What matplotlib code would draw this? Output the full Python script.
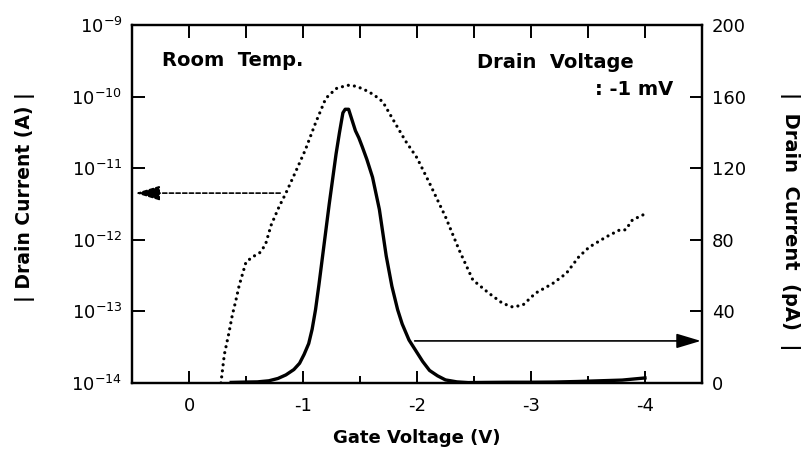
import numpy as np
import matplotlib
matplotlib.use("Agg")
import matplotlib.pyplot as plt
from matplotlib.ticker import FixedLocator, NullLocator, NullFormatter, LogFormatterMathtext

plt.rcParams['font.family'] = ['DejaVu Sans']
plt.rcParams['mathtext.default'] = 'regular'

# Drain current on log scale (A) vs gate voltage (V)
gate_log = [-0.28, -0.31, -0.35, -0.38, -0.41, -0.44, -0.50, -0.56, -0.62, -0.67,
            -0.72, -0.79, -0.85, -0.94, -1.02, -1.11, -1.20, -1.29, -1.39, -1.47,
            -1.55, -1.62, -1.70, -1.80, -1.90, -2.00, -2.11, -2.25, -2.37, -2.49,
            -2.63, -2.75, -2.84, -2.93, -3.04, -3.19, -3.31, -3.42, -3.51, -3.66,
            -3.78, -3.83, -3.89, -4.00]
current_log = [1.0e-14, 2.5e-14, 5.0e-14, 8.9e-14, 1.4e-13, 2.3e-13, 4.9e-13, 5.8e-13,
               6.6e-13, 8.5e-13, 1.6e-12, 2.9e-12, 4.5e-12, 9.3e-12, 1.8e-11, 4.3e-11,
               9.5e-11, 1.3e-10, 1.45e-10, 1.4e-10, 1.23e-10, 1.07e-10, 8.5e-11, 4.5e-11,
               2.4e-11, 1.4e-11, 6.2e-12, 2.1e-12, 7.2e-13, 2.75e-13, 1.8e-13, 1.3e-13,
               1.15e-13, 1.23e-13, 1.8e-13, 2.45e-13, 3.4e-13, 5.8e-13, 7.9e-13, 1.1e-12,
               1.38e-12, 1.38e-12, 1.9e-12, 2.3e-12]

# Drain current on linear scale (pA) vs gate voltage (V)
gate_lin = [-0.37, -0.50, -0.60, -0.70, -0.78, -0.85, -0.92, -0.97, -1.01, -1.05,
            -1.08, -1.11, -1.14, -1.17, -1.20, -1.23, -1.26, -1.29, -1.32, -1.35,
            -1.37, -1.40, -1.43, -1.46, -1.49, -1.52, -1.56, -1.61, -1.64, -1.67,
            -1.70, -1.73, -1.78, -1.83, -1.87, -1.93, -1.99, -2.05, -2.11, -2.18,
            -2.25, -2.35, -2.45, -2.60, -2.80, -3.00, -3.20, -3.40, -3.60, -3.80,
            -3.90, -4.00]
current_lin = [0.3, 0.5, 0.6, 1.2, 2.5, 4.5, 7.5, 11, 16, 22,
               30, 41, 55, 70, 85, 100, 114, 128, 140, 151,
               153, 153, 147, 141, 137, 132, 125, 115, 106, 97,
               84, 71, 54, 41, 33, 24, 18, 12, 7, 4,
               1.7, 0.6, 0.2, 0.3, 0.4, 0.4, 0.5, 0.8, 1.2, 1.6,
               2.2, 2.8]

x_ticks = [0, -1, -2, -3, -4]
x_tick_labels = ['0', '-1', '-2', '-3', '-4']
x_half_ticks = [0.0, -0.5, -1.0, -1.5, -2.0, -2.5, -3.0, -3.5, -4.0]
left_ticks = [1e-14, 1e-13, 1e-12, 1e-11, 1e-10, 1e-9]
right_ticks = [0, 40, 80, 120, 160, 200]

pos = [0.164, 0.149, 0.708, 0.795]
fig = plt.figure(figsize=(8.05, 4.5), dpi=100)
ax = fig.add_axes(pos)
ax2 = ax.twinx()

ax.set_yscale('log')
ax.set_xlim(0.5, -4.5)
ax.set_ylim(1e-14, 1e-9)
ax2.set_ylim(0, 200)

ax.plot(gate_log, current_log, color='black', lw=2.3,
        linestyle=(0, (0.01, 1.9)), dash_capstyle='round')
ax2.plot(gate_lin, current_lin, color='black', lw=2.4, solid_joinstyle='round')

# axis arrows pointing to the scale each curve uses
head = '-|>,head_length=1.5,head_width=0.45'
ax.annotate('', xy=(0.47, 4.5e-12), xytext=(-0.80, 4.5e-12),
            arrowprops=dict(arrowstyle=head, color='black', lw=1.2,
                            linestyle=(0, (2.5, 1.5)), shrinkA=0, shrinkB=0))
ax2.annotate('', xy=(-4.49, 23.5), xytext=(-1.98, 23.5),
             arrowprops=dict(arrowstyle=head, color='black', lw=1.2,
                             shrinkA=0, shrinkB=0))

# ticks
ax.xaxis.set_major_locator(FixedLocator(x_ticks))
ax.set_xticklabels(x_tick_labels)
ax.xaxis.set_minor_locator(FixedLocator(x_half_ticks))
ax.xaxis.set_minor_formatter(NullFormatter())
ax.yaxis.set_major_locator(FixedLocator(left_ticks))
ax.yaxis.set_major_formatter(LogFormatterMathtext())
ax.yaxis.set_minor_locator(NullLocator())
ax2.yaxis.set_major_locator(FixedLocator(right_ticks))

ax.tick_params(axis='both', which='major', direction='in', length=9, width=1.4,
               labelsize=13, pad=7)
ax.tick_params(axis='x', which='minor', direction='in', length=5, width=1.4)
ax.tick_params(axis='x', which='major', pad=10)
ax2.tick_params(axis='y', which='major', direction='in', length=9, width=1.4,
                labelsize=13, pad=7)

# top edge ticks every half volt, all the same length
ax_top = fig.add_axes(pos, frameon=False)
ax_top.set_xlim(0.5, -4.5)
ax_top.xaxis.set_major_locator(FixedLocator(x_half_ticks))
ax_top.xaxis.set_major_formatter(NullFormatter())
ax_top.xaxis.set_minor_locator(NullLocator())
ax_top.set_yticks([])
ax_top.tick_params(axis='x', which='both', direction='in', length=9, width=1.4,
                   top=True, bottom=False, labeltop=False, labelbottom=False)
ax_top.patch.set_visible(False)

for a in (ax, ax2):
    for s in a.spines.values():
        s.set_linewidth(1.6)

ax.set_xlabel('Gate Voltage (V)', fontsize=13, fontweight='bold', labelpad=10)
fig.text(25 / 805, 1 - 197 / 450, '| Drain Current (A) |', fontsize=13.5,
         fontweight='bold', rotation=90, ha='center', va='center')
fig.text(790 / 805, 1 - 221 / 450, '|  Drain  Current  (pA)  |', fontsize=14,
         fontweight='bold', rotation=270, ha='center', va='center')

ax.text(0.053, 0.902, 'Room  Temp.', transform=ax.transAxes, fontsize=14,
        fontweight='bold', va='center', ha='left')
ax.text(0.605, 0.897, 'Drain  Voltage', transform=ax.transAxes, fontsize=14,
        fontweight='bold', va='center', ha='left')
ax.text(0.949, 0.82, ': -1 mV', transform=ax.transAxes, fontsize=14,
        fontweight='bold', va='center', ha='right')

fig.savefig('out.png', dpi=100)
